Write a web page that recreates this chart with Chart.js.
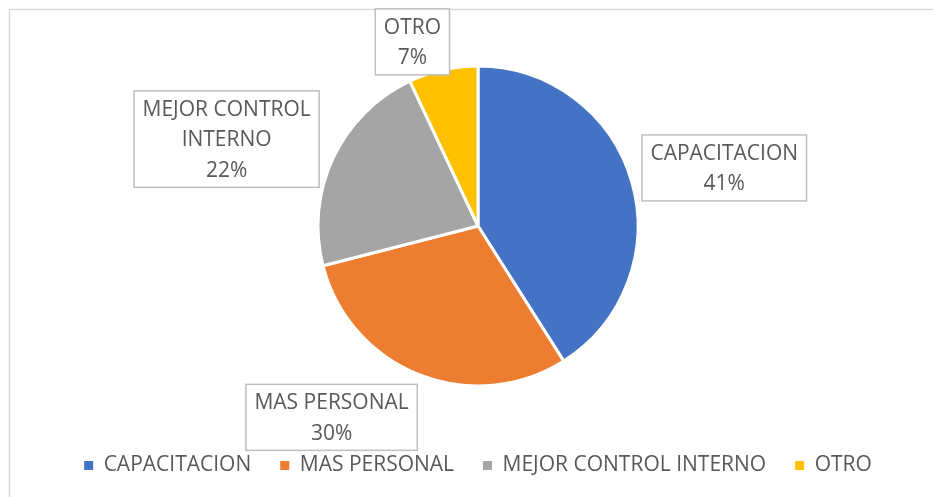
<!DOCTYPE html>
<html>
<head>
<meta charset="utf-8">
<script src="https://cdn.jsdelivr.net/npm/chart.js@4"></script>
<style>
  html, body { margin: 0; padding: 0; background: #fff; }
  #wrap { width: 933px; height: 497px; position: relative; }
</style>
</head>
<body>
<div id="wrap"><canvas id="c" width="933" height="497"></canvas></div>
<script>
const categories = ['CAPACITACION', 'MAS PERSONAL', 'MEJOR CONTROL INTERNO', 'OTRO'];
const values = [41, 30, 22, 7];
const colors = ['#4472C4', '#ED7D31', '#A5A5A5', '#FFC000'];
// label text lines (how Excel wrapped them)
const labelLines = [['CAPACITACION'], ['MAS PERSONAL'], ['MEJOR CONTROL', 'INTERNO'], ['OTRO']];
// label box centres, relative to pie centre, in units of the pie radius
const labelOffsets = [[1.539, -0.363], [-0.915, 1.196], [-1.571, -0.543], [-0.41, -1.151]];

const FONT_SIZE = 21;
const FONT = FONT_SIZE + 'px "Open Sans"';
const TEXT = '#595959';

const frame = {
  id: 'frame',
  beforeDraw(chart) {
    const ctx = chart.ctx;
    ctx.save();
    ctx.strokeStyle = '#d9d9d9';
    ctx.lineWidth = 1.5;
    ctx.strokeRect(9.5, 9.5, 1200, 1200);
    ctx.restore();
  }
};

const boxLabels = {
  id: 'boxLabels',
  afterDatasetsDraw(chart) {
    const ctx = chart.ctx;
    const meta = chart.getDatasetMeta(0);
    const total = values.reduce((a, b) => a + b, 0);
    ctx.save();
    ctx.font = FONT;
    ctx.textAlign = 'center';
    ctx.textBaseline = 'middle';
    meta.data.forEach((arc, i) => {
      const R = arc.outerRadius;
      const cx = arc.x + labelOffsets[i][0] * R;
      const cy = arc.y + labelOffsets[i][1] * R;
      const lines = labelLines[i].concat([Math.round(values[i] / total * 100) + '%']);
      const lh = 30.5;
      const w = Math.max(...lines.map(l => ctx.measureText(l).width)) + 17;
      const h = lines.length * lh + 5;
      ctx.fillStyle = '#ffffff';
      ctx.fillRect(cx - w / 2, cy - h / 2, w, h);
      ctx.strokeStyle = '#bfbfbf';
      ctx.lineWidth = 1.5;
      ctx.strokeRect(cx - w / 2, cy - h / 2, w, h);
      ctx.fillStyle = TEXT;
      lines.forEach((l, k) => {
        ctx.fillText(l, cx, cy + 1 + (k - (lines.length - 1) / 2) * lh);
      });
    });
    ctx.restore();
  }
};

new Chart(document.getElementById('c'), {
  type: 'pie',
  data: {
    labels: categories,
    datasets: [{
      data: values,
      backgroundColor: colors,
      borderColor: '#ffffff',
      borderWidth: 3,
      radius: 160
    }]
  },
  options: {
    responsive: false,
    animation: false,
    layout: { padding: { left: 23, right: 0, top: 26, bottom: 11 } },
    plugins: {
      tooltip: { enabled: false },
      legend: {
        position: 'bottom',
        labels: {
          boxWidth: 9,
          boxHeight: 9,
          padding: 29,
          color: TEXT,
          font: { family: 'Open Sans', size: FONT_SIZE },
          generateLabels(chart) {
            const items = Chart.controllers.pie.overrides.plugins.legend.labels.generateLabels(chart);
            items.forEach(it => { it.lineWidth = 0; it.strokeStyle = 'rgba(0,0,0,0)'; });
            return items;
          }
        }
      }
    }
  },
  plugins: [frame, boxLabels]
});
</script>
</body>
</html>
